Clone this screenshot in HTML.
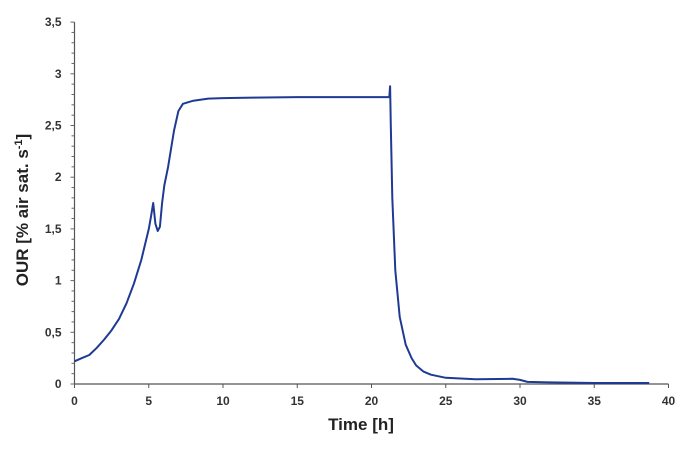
<!DOCTYPE html>
<html><head><meta charset="utf-8"><style>
html,body{margin:0;padding:0;background:#fff;}
svg{display:block;font-family:"Liberation Sans",Arial,sans-serif;}
</style></head><body>
<svg id="chart" width="700" height="452">
<g id="axes"></g>
<g id="plot"></g>
<text x="18" y="200" transform="rotate(-90 28 200)" text-anchor="middle" font-size="17" font-weight="bold" fill="#222">OUR [% air sat. s<tspan font-size="11" dy="-6">-1</tspan><tspan dy="6">]</tspan></text>
<text x="361" y="430" text-anchor="middle" font-size="17" font-weight="bold" fill="#222">Time [h]</text>
</svg>
<script>
const times = [0,0.5,1,1.5,2,2.5,3,3.5,4,4.5,5,5.15,5.3,5.45,5.6,5.75,5.9,6.05,6.3,6.7,7,7.3,8,9,10,12,15,18,21.2,21.25,21.3,21.4,21.6,21.9,22.3,22.7,23,23.5,24,25,27,29.5,30,30.5,32,35,38.7];
const ourValues = [0.22,0.25,0.28,0.35,0.43,0.52,0.63,0.78,0.97,1.2,1.5,1.62,1.75,1.55,1.48,1.52,1.75,1.92,2.1,2.45,2.64,2.71,2.74,2.76,2.765,2.77,2.775,2.775,2.775,2.88,2.5,1.8,1.1,0.65,0.38,0.25,0.18,0.12,0.09,0.06,0.045,0.05,0.04,0.02,0.015,0.01,0.01];
const xTicks = [0,5,10,15,20,25,30,35,40];
const yTicks = [0,0.5,1,1.5,2,2.5,3,3.5];
const yTickLabels = ["0","0,5","1","1,5","2","2,5","3","3,5"];
const NS="http://www.w3.org/2000/svg";
const X0=74.5,XS=14.85,Y0=384,YS=103.4;
const xs=v=>X0+v*XS, ys=v=>Y0-v*YS;
const axes=document.getElementById('axes'), plot=document.getElementById('plot');
function mk(tag,attrs,parent){const e=document.createElementNS(NS,tag);for(const k in attrs)e.setAttribute(k,attrs[k]);parent.appendChild(e);return e;}
let a=mk('line',{x1:xs(0),y1:Y0,x2:xs(40),y2:Y0,stroke:'#555','stroke-width':1.2},axes);


a=mk('line',{x1:xs(0),y1:ys(3.5),x2:xs(0),y2:Y0,stroke:'#555','stroke-width':1.2},axes);


xTicks.forEach(t=>{
  const l=mk('line',{x1:xs(t),y1:Y0,x2:xs(t),y2:Y0+4,stroke:'#555'},axes);
  
  
  const tx=mk('text',{x:xs(t),y:Y0+21,'text-anchor':'middle','font-size':12,'font-weight':'bold',fill:'#333'},axes);
  tx.textContent=t;
  
  
});
for(let i=0;i<=35;i++){
  const v=i/10, major=i%5===0;
  const l=mk('line',{x1:xs(0)-(major?4:3),y1:ys(v),x2:xs(0),y2:ys(v),stroke:'#666'},axes);
  
  
}
yTicks.forEach((t,i)=>{
  const tx=mk('text',{x:xs(0)-13,y:ys(t)+4,'text-anchor':'end','font-size':12,'font-weight':'bold',fill:'#333'},axes);
  tx.textContent=yTickLabels[i];
  
  
});
const d=times.map((t,i)=>(i?'L':'M')+xs(t).toFixed(1)+' '+ys(ourValues[i]).toFixed(1)).join(' ');
const p=mk('path',{d:d,fill:'none',stroke:'#1f3a93','stroke-width':2,'stroke-linejoin':'round'},plot);


</script>
</body></html>
